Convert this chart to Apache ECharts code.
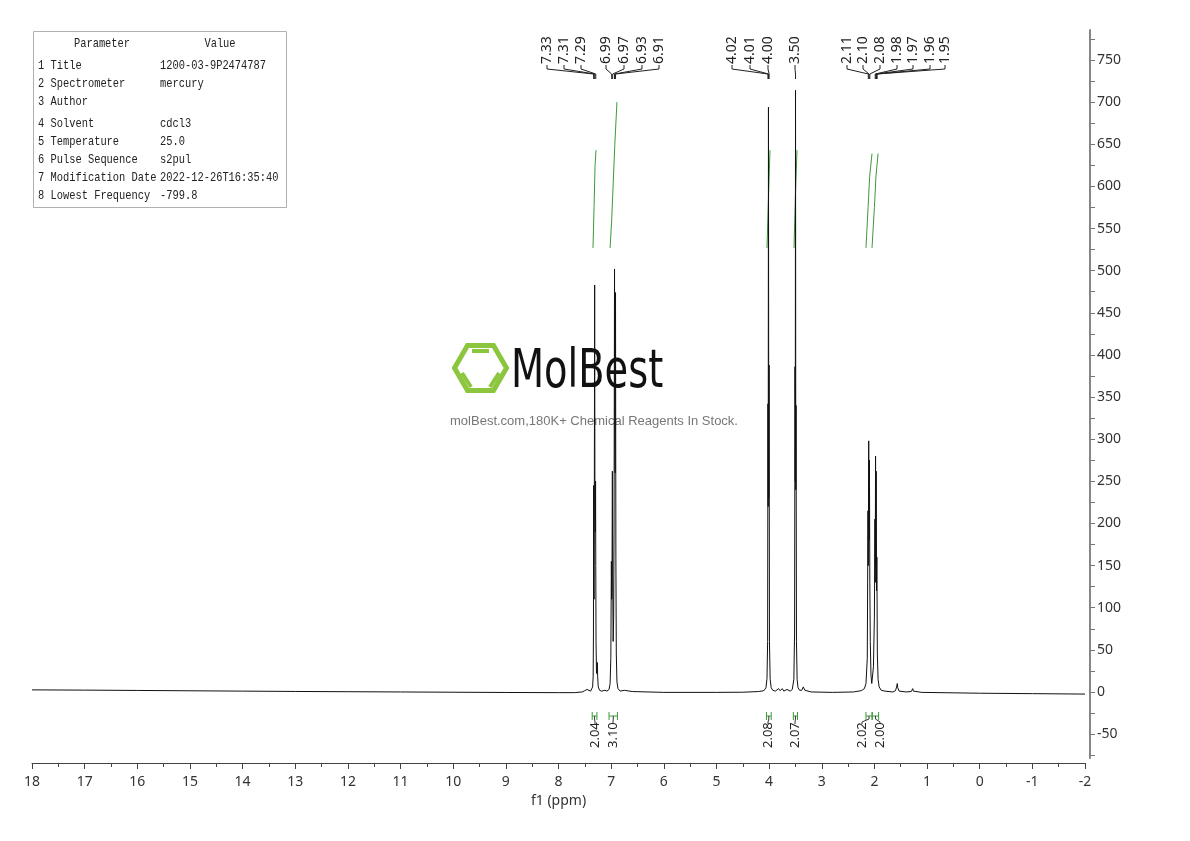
<!DOCTYPE html>
<html>
<head>
<meta charset="utf-8">
<title>1H NMR</title>
<script src="https://cdn.jsdelivr.net/npm/echarts@6/dist/echarts.min.js"></script>
<style>
  html, body { margin: 0; padding: 0; background: #fff; }
  #chart { width: 1190px; height: 841px; }
</style>
</head>
<body>
<div id="chart"></div>
<script>
// spectrum trace, [ppm, intensity]
const spectrum = [
  [18, 2.5], [17, 2.2], [16, 1.8], [15, 1.4], [14, 1.0], [13, 0.6], [12, 0.3], [11, 0], [10, -0.3], [9, -0.6],
  [8, -0.8], [7.7, -0.8], [7.55, 0], [7.5, 1.5], [7.46, 3], [7.43, 1.5], [7.39, 1], [7.37, 2],
  [7.352, 6], [7.342, 18], [7.336, 70], [7.333, 245], [7.329, 130], [7.325, 110], [7.321, 170], [7.313, 483],
  [7.308, 220], [7.302, 190], [7.296, 250], [7.292, 150], [7.287, 60], [7.278, 22], [7.27, 20], [7.262, 35],
  [7.256, 18], [7.245, 6], [7.22, 2], [7.18, 1], [7.12, 2], [7.08, 1], [7.04, 3],
  [7.02, 10], [7.006, 40], [6.996, 155], [6.99, 110], [6.985, 120], [6.977, 262], [6.971, 140], [6.962, 60],
  [6.952, 90], [6.945, 190], [6.936, 502], [6.93, 300], [6.925, 260], [6.917, 474], [6.91, 160], [6.902, 45],
  [6.89, 12], [6.87, 4], [6.83, 1], [6.75, 2], [6.6, 0.5], [6, -0.5], [5, -0.5], [4.5, -0.3], [4.2, 0.5], [4.1, 1.5],
  [4.06, 5], [4.04, 16], [4.028, 60], [4.022, 342], [4.017, 220], [4.012, 694], [4.006, 230], [4.0, 388],
  [3.993, 60], [3.98, 15], [3.96, 5], [3.93, 2], [3.88, 1], [3.82, 4], [3.79, 1.5], [3.75, 4], [3.72, 1],
  [3.66, 3], [3.6, 1], [3.56, 3],
  [3.53, 15], [3.516, 70], [3.508, 386], [3.503, 250], [3.498, 714], [3.493, 240], [3.488, 340], [3.48, 60],
  [3.468, 15], [3.45, 5], [3.42, 2], [3.38, 2], [3.35, 6], [3.32, 2], [3.2, 0], [2.8, -0.5], [2.4, 0],
  [2.25, 1.5], [2.19, 4],
  [2.16, 10], [2.135, 40], [2.122, 215], [2.116, 150], [2.108, 298], [2.101, 180], [2.094, 275], [2.087, 130],
  [2.078, 60], [2.065, 20], [2.05, 10], [2.035, 9], [2.018, 30], [2.0, 90], [1.99, 205], [1.984, 130],
  [1.978, 280], [1.972, 150], [1.966, 262], [1.959, 120], [1.953, 160], [1.944, 45], [1.93, 15], [1.91, 6],
  [1.87, 2], [1.8, 1], [1.65, 0], [1.6, 1.5], [1.578, 6], [1.566, 10], [1.556, 5], [1.53, 1], [1.4, 0],
  [1.3, 0.5], [1.272, 4], [1.26, 1], [1.1, -0.5], [0, -1.5], [-1, -2], [-2, -2.5]
]

// picked peaks
const peakShifts = [7.333, 7.313, 7.292, 6.99, 6.971, 6.936, 6.917, 4.022, 4.012, 4.0, 3.498,
  2.116, 2.101, 2.087, 1.984, 1.972, 1.96, 1.948]
const peakLabels = ['7.33', '7.31', '7.29', '6.99', '6.97', '6.93', '6.91', '4.02', '4.01', '4.00', '3.50',
  '2.11', '2.10', '2.08', '1.98', '1.97', '1.96', '1.95']

// integrals
const integralRanges = [[7.36, 7.27], [7.04, 6.88], [4.05, 3.96], [3.54, 3.46], [2.16, 2.045], [2.04, 1.92]]
const integralValues = ['2.04', '3.10', '2.08', '2.07', '2.02', '2.00']
const integralCurves = [
  [[7.345, 527], [7.325, 575], [7.305, 625], [7.288, 643]],
  [[7.02, 527], [6.99, 560], [6.97, 590], [6.93, 650], [6.89, 700]],
  [[4.04, 527], [4.01, 590], [3.983, 643]],
  [[3.527, 527], [3.5, 590], [3.47, 643]],
  [[2.16, 527], [2.12, 575], [2.09, 612], [2.045, 639]],
  [[2.045, 527], [2.0, 575], [1.97, 612], [1.93, 639]]
]

// parameter table
const paramNames = ['1 Title', '2 Spectrometer', '3 Author', '4 Solvent', '5 Temperature', '6 Pulse Sequence',
  '7 Modification Date', '8 Lowest Frequency']
const paramValues = ['1200-03-9P2474787', 'mercury', '', 'cdcl3', '25.0', 's2pul', '2022-12-26T16:35:40', '-799.8']

const yLabelValues = [-50, 0, 50, 100, 150, 200, 250, 300, 350, 400, 450, 500, 550, 600, 650, 700, 750]
const yTickValues = [-75, -50, -25, 0, 25, 50, 75, 100, 125, 150, 175, 200, 225, 250, 275, 300, 325, 350, 375,
  400, 425, 450, 475, 500, 525, 550, 575, 600, 625, 650, 675, 700, 725, 750, 775]

// layout (pixels)
const peakLabelX = [547, 564, 581, 606, 624, 642, 659, 732, 750, 768, 795, 847, 863, 880, 897, 913, 930, 945]
const integralLabelX = [595, 613, 768, 795, 862, 880]
const FONT = 'Noto Sans'
const GREEN = '#3c9a3c'

const chart = echarts.init(document.getElementById('chart'))

function paramTable() {
  const children = [{
    type: 'rect',
    shape: { x: 33.5, y: 31.5, width: 253, height: 176 },
    style: { fill: '#fff', stroke: '#b0b0b0', lineWidth: 1 }
  }]
  const mono = { fontFamily: 'Liberation Mono', fontSize: 13.5, fill: '#222', verticalAlign: 'middle' }
  const sx = 0.77
  children.push({ type: 'text', x: 102, y: 43, scaleX: sx, style: Object.assign({ text: 'Parameter', align: 'center' }, mono) })
  children.push({ type: 'text', x: 220, y: 43, scaleX: sx, style: Object.assign({ text: 'Value', align: 'center' }, mono) })
  const rowY = [65, 83, 101, 123, 141, 159, 177, 195]
  paramNames.forEach((name, i) => {
    children.push({ type: 'text', x: 38, y: rowY[i], scaleX: sx, style: Object.assign({ text: name, align: 'left' }, mono) })
    children.push({ type: 'text', x: 160, y: rowY[i], scaleX: sx, style: Object.assign({ text: paramValues[i], align: 'left' }, mono) })
  })
  return { type: 'group', z: 10, children }
}

function watermark() {
  const cx = 480.5, cy = 368, r = 26
  const hex = []
  for (let k = 0; k < 6; k++) {
    const a = Math.PI / 3 * k
    hex.push([cx + r * Math.cos(a), cy + r * Math.sin(a)])
  }
  const lg = '#8cc63f'
  return {
    type: 'group',
    z: 0,
    children: [
      { type: 'polygon', shape: { points: hex }, style: { fill: 'none', stroke: lg, lineWidth: 5 } },
      { type: 'line', shape: { x1: 472, y1: 351, x2: 489, y2: 351 }, style: { stroke: lg, lineWidth: 4 } },
      { type: 'line', shape: { x1: 462, y1: 373, x2: 471, y2: 387 }, style: { stroke: lg, lineWidth: 4 } },
      { type: 'line', shape: { x1: 490, y1: 387, x2: 499, y2: 373 }, style: { stroke: lg, lineWidth: 4 } },
      {
        type: 'text', x: 511, y: 373, scaleX: 0.79,
        style: { text: 'MolBest', fontFamily: 'DejaVu Sans Condensed', fontSize: 54, fill: '#111', verticalAlign: 'middle', align: 'left' }
      },
      {
        type: 'text', x: 594, y: 421,
        style: { text: 'molBest.com,180K+ Chemical Reagents In Stock.', fontFamily: 'Liberation Sans', fontSize: 13, fill: '#777', align: 'center', verticalAlign: 'middle' }
      }
    ]
  }
}

chart.setOption({
  animation: false,
  backgroundColor: '#fff',
  // grid 0 holds the spectrum and the ppm axis, grid 1 only the intensity axis (shorter at the bottom)
  grid: [
    { left: 32, right: 105, top: 30, bottom: 78 },
    { left: 32, right: 105, top: 30, bottom: 83 }
  ],
  xAxis: [{
    type: 'value',
    min: -2,
    max: 18,
    interval: 1,
    inverse: true,
    position: 'bottom',
    name: 'f1 (ppm)',
    nameLocation: 'middle',
    nameGap: 29,
    nameTextStyle: { fontFamily: FONT, fontSize: 14, color: '#333' },
    axisLine: { onZero: false, lineStyle: { color: '#444', width: 1 } },
    axisTick: { length: 6, lineStyle: { color: '#444' } },
    minorTick: { show: true, splitNumber: 2, length: 4, lineStyle: { color: '#444' } },
    axisLabel: { margin: 12, fontFamily: FONT, fontSize: 14, color: '#333' },
    splitLine: { show: false }
  }, {
    type: 'value',
    gridIndex: 1,
    min: -2,
    max: 18,
    inverse: true,
    show: false
  }],
  yAxis: [{
    type: 'value',
    min: -84.3,
    max: 785.6,
    show: false,
    splitLine: { show: false }
  }, {
    type: 'value',
    gridIndex: 1,
    min: -78.3,
    max: 785.6,
    position: 'right',
    offset: 5,
    axisLine: { show: true, onZero: false, lineStyle: { color: '#888', width: 2 } },
    axisTick: { show: true, length: 5, customValues: yTickValues, lineStyle: { color: '#777' } },
    axisLabel: { customValues: yLabelValues, margin: 7, fontFamily: FONT, fontSize: 14, color: '#333' },
    splitLine: { show: false }
  }],
  graphic: [watermark(), paramTable()],
  series: [
    {
      type: 'line',
      name: 'spectrum',
      data: spectrum,
      showSymbol: false,
      z: 5,
      lineStyle: { color: '#111', width: 1 },
      itemStyle: { color: '#111' }
    },
    ...integralCurves.map(c => ({
      type: 'line',
      data: c,
      showSymbol: false,
      z: 4,
      lineStyle: { color: GREEN, width: 1 }
    })),
    {
      // peak labels with connectors
      type: 'custom',
      z: 6,
      clip: false,
      data: peakShifts.map((s, i) => [s, i]),
      encode: { x: 0, y: 1 },
      renderItem: function(params, api) {
        const i = api.value(1)
        const px = api.coord([api.value(0), 0])[0]
        const lx = peakLabelX[i]
        return {
          type: 'group',
          children: [
            {
              type: 'polyline',
              shape: { points: [[lx, 65], [lx, 69], [px, 74], [px, 79]] },
              style: { stroke: '#222', lineWidth: 1, fill: 'none' }
            },
            {
              type: 'text',
              x: lx,
              y: 64,
              rotation: Math.PI / 2,
              style: { text: peakLabels[i], fontFamily: FONT, fontSize: 14, fill: '#222', align: 'left', verticalAlign: 'middle' }
            }
          ]
        }
      }
    },
    {
      // integral markers and values
      type: 'custom',
      z: 6,
      clip: false,
      data: integralRanges.map((r, i) => [r[0], r[1], i]),
      encode: { x: [0, 1], y: 2 },
      renderItem: function(params, api) {
        const i = api.value(2)
        const x1 = api.coord([api.value(0), 0])[0]
        const x2 = api.coord([api.value(1), 0])[0]
        const mx = (x1 + x2) / 2
        const lx = integralLabelX[i]
        return {
          type: 'group',
          children: [
            { type: 'line', shape: { x1: x1, y1: 716, x2: x2, y2: 716 }, style: { stroke: GREEN, lineWidth: 1 } },
            { type: 'line', shape: { x1: x1, y1: 712, x2: x1, y2: 720 }, style: { stroke: GREEN, lineWidth: 1 } },
            { type: 'line', shape: { x1: x2, y1: 712, x2: x2, y2: 720 }, style: { stroke: GREEN, lineWidth: 1 } },
            {
              type: 'polyline',
              shape: { points: [[mx, 716], [mx, 719], [lx, 722], [lx, 724]] },
              style: { stroke: '#333', lineWidth: 1, fill: 'none' }
            },
            {
              type: 'text',
              x: lx,
              y: 748,
              rotation: Math.PI / 2,
              style: { text: integralValues[i], fontFamily: FONT, fontSize: 13, fill: '#222', align: 'left', verticalAlign: 'middle' }
            }
          ]
        }
      }
    }
  ]
})
</script>
</body>
</html>
